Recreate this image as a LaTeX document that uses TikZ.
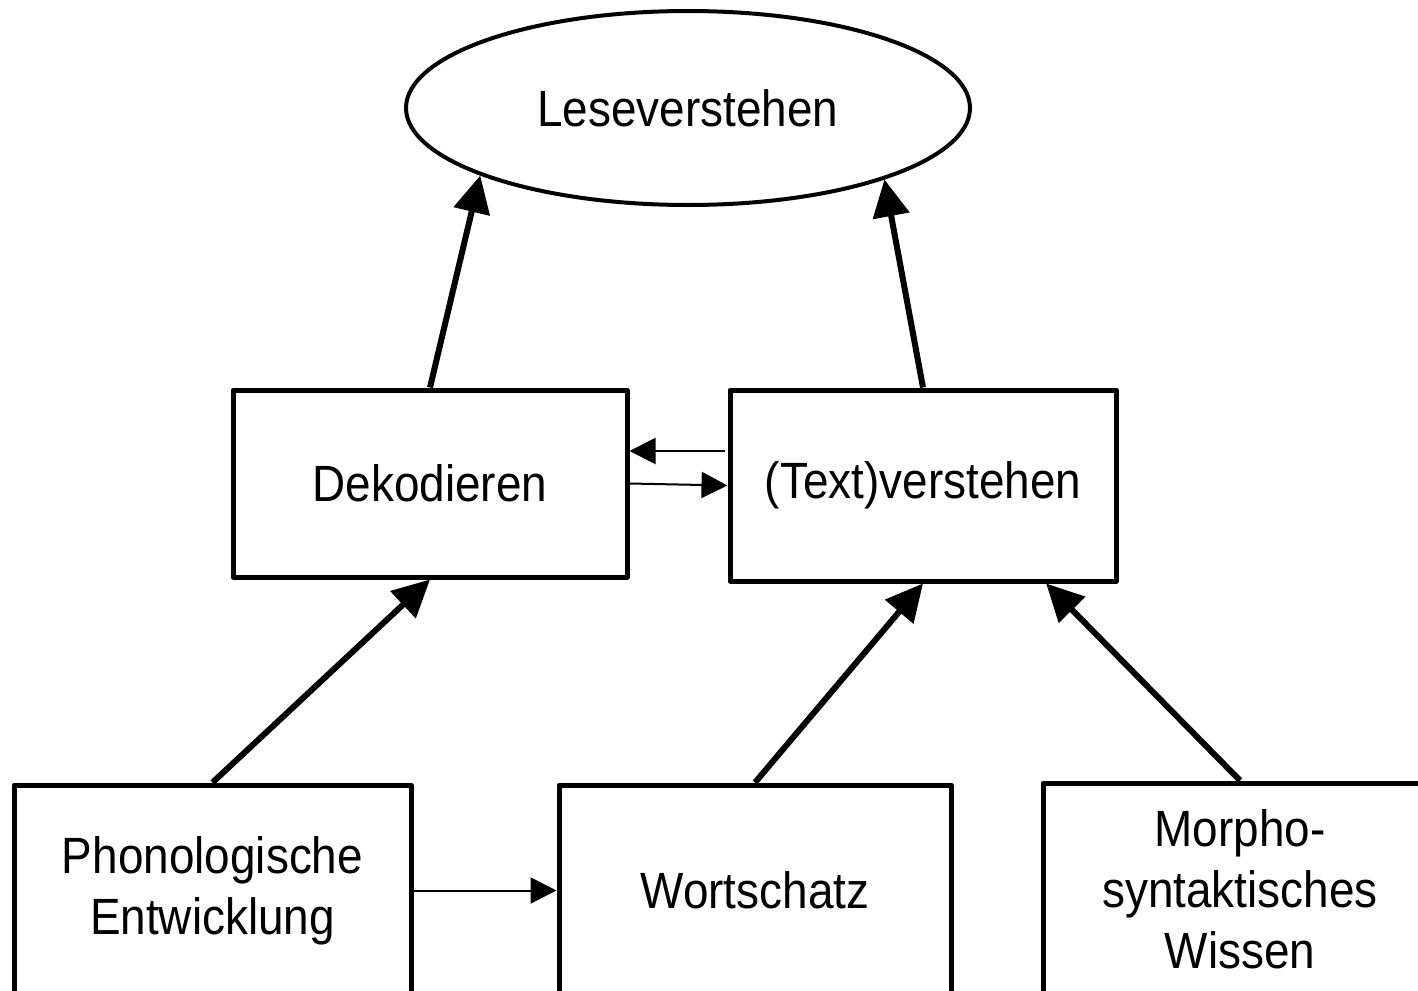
\documentclass[tikz,border=0pt]{standalone}
\usepackage{fontspec}
\setmainfont{Liberation Sans}[FakeStretch=0.9]
\usetikzlibrary{arrows.meta,shapes.geometric,calc}
\begin{document}
\begin{tikzpicture}[x=1pt,y=-1pt,
  txt/.style={font=\fontsize{51}{61}\selectfont},
  box/.style={draw, line width=5pt, inner sep=0pt, line join=round, align=center, txt},
  ell/.style={draw, ellipse, line width=4pt, inner sep=0pt, txt},
  thickarrow/.style={line width=6pt, -{Triangle[length=37pt,width=36pt]}},
  thinarrow/.style={line width=2pt, -{Triangle[length=26pt,width=26pt]}}
]
\clip (0,0) rectangle (1418,990);
\fill[white] (0,0) rectangle (1418,990);

\node[ell, minimum width=564pt, minimum height=194pt] (e) at (688,108) {Leseverstehen};
\node[box, minimum width=394pt, minimum height=187pt] (d) at (430,483.5) {Dekodieren};
\node[box, minimum width=386pt, minimum height=191pt] (t) at (923,485.5) {(Text)verstehen};
\node[box, minimum width=397pt, minimum height=211pt] (p) at (212.5,890.5) {Phonologische\\Entwicklung};
\node[box, minimum width=392pt, minimum height=211pt] (w) at (755,890.5) {Wortschatz};
\node[box, minimum width=394pt, minimum height=213pt] (m) at (1240,889.5) {Morpho-\\syntaktisches\\Wissen};

\coordinate (ya) at (0,451);
\coordinate (mt) at ($(t.south west)!0.815!(t.south east)$);

\draw[thickarrow] (d.north) -- (e.198.5);
\draw[thickarrow] (t.north) -- (e.340.4);
\draw[thickarrow] (p.north) -- (d.south);
\draw[thickarrow] (w.north) -- (t.south);
\draw[thickarrow] (m.north) -- (mt);

\draw[thinarrow] ($(t.west |- ya)+(-3,0)$) -- (d.east |- ya);
\draw[thinarrow] (d.east) -- (t.west);
\draw[thinarrow] (p.east) -- (w.west);
\end{tikzpicture}
\end{document}
